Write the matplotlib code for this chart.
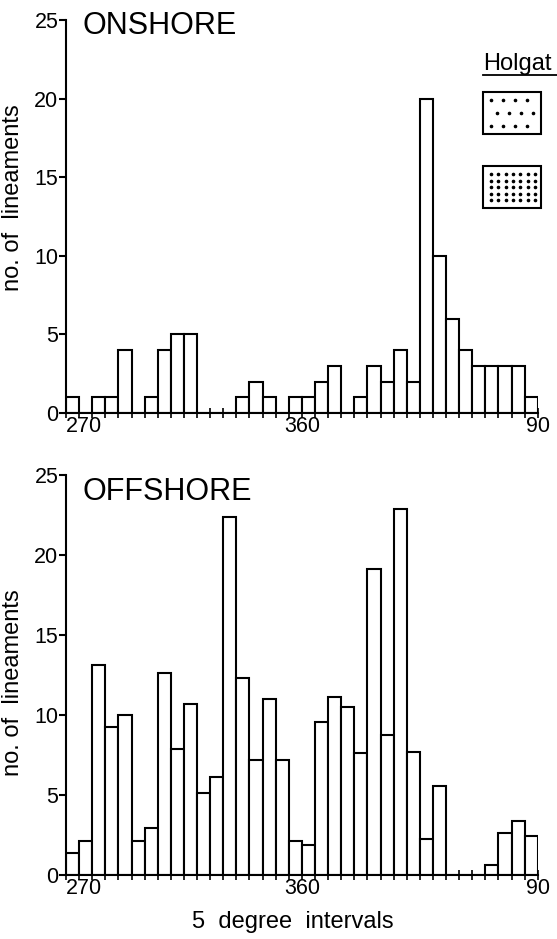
import matplotlib
matplotlib.use("Agg")
import matplotlib.pyplot as plt
import numpy as np
from matplotlib.patches import Rectangle
from matplotlib.lines import Line2D


# 5 degree bins from 270 through 360 to 90 (36 intervals)
BIN_STARTS = list(range(270, 360, 5)) + list(range(0, 90, 5))
TICK_LABELS = {0: "270", 18: "360", 36: "90"}

ONSHORE = [1, 0, 1, 1, 4, 0, 1, 4, 5, 5, 0, 0, 0, 1, 2, 1, 0, 1,
           1, 2, 3, 0, 1, 3, 2, 4, 2, 20, 10, 6, 4, 3, 3, 3, 3, 1]
OFFSHORE = [1.4, 2.15, 13.1, 9.25, 10.0, 2.15, 2.95, 12.6, 7.9, 10.7, 5.1, 6.1,
            22.4, 12.3, 7.2, 11.0, 7.2, 2.15, 1.85, 9.55, 11.15, 10.5, 7.6, 19.1,
            8.75, 22.9, 7.7, 2.25, 5.55, 0, 0, 0, 0.65, 2.65, 3.4, 2.45]

FONT = ["Liberation Sans", "DejaVu Sans"]
LW = 1.5
W, H = 557, 939


def draw_panel(ax, counts, title, title_y, ylabel_y, show_xlabel=False):
    x = np.arange(len(BIN_STARTS))
    ax.bar(x, counts, width=1.0, align="edge", color="white",
           edgecolor="black", linewidth=LW)
    ax.set_xlim(0, len(BIN_STARTS))
    ax.set_ylim(0, 25)

    for side in ("top", "right"):
        ax.spines[side].set_visible(False)
    for side in ("left", "bottom"):
        ax.spines[side].set_linewidth(LW)

    ax.set_yticks([0, 5, 10, 15, 20, 25])
    ax.set_yticklabels(["0", "5", "10", "15", "20", "25"], family=FONT, fontsize=15.5)
    ax.tick_params(axis="y", direction="out", length=5, width=LW, pad=0.5)

    ax.set_xticks(np.arange(len(BIN_STARTS) + 1))
    ax.set_xticklabels([TICK_LABELS.get(i, "") for i in range(len(BIN_STARTS) + 1)],
                       family=FONT, fontsize=15.5)
    ax.tick_params(axis="x", direction="inout", length=7, width=1.2, pad=-1)
    ax.get_xticklabels()[0].set_horizontalalignment("left")

    ax.set_ylabel("no. of  lineaments", family=FONT, fontsize=17)
    ax.yaxis.set_label_coords(-0.09, ylabel_y)

    ax.text(0.036, title_y, title, transform=ax.transAxes, family=FONT,
            fontsize=22, va="center", ha="left")

    if show_xlabel:
        ax.text(0.481, -0.1175, "5  degree  intervals", transform=ax.transAxes,
                family=FONT, fontsize=17, va="center", ha="center")


def dotted_box(fig, left, top, width, height, nx, ny, stagger):
    fig.add_artist(Rectangle((left / W, 1 - (top + height) / H), width / W, height / H,
                             transform=fig.transFigure, facecolor="white",
                             edgecolor="black", linewidth=LW))
    right_inset = 14 if stagger else 6
    xs = np.linspace(left + 8, left + width - right_inset, nx)
    ys = np.linspace(top + 8, top + height - 8, ny)
    gx, gy = np.meshgrid(xs, ys)
    if stagger:
        gx = gx + np.where(np.arange(ny)[:, None] % 2 == 1, (xs[1] - xs[0]) / 2, 0)
    fig.add_artist(Line2D(gx.ravel() / W, 1 - gy.ravel() / H, linestyle="none",
                          marker="o", markersize=1.6, color="black",
                          transform=fig.transFigure))


def main():
    fig = plt.figure(figsize=(W / 100, H / 100), dpi=100)
    ax_top = fig.add_axes([0.1185, 0.5602, 0.847, 0.4185])
    ax_bot = fig.add_axes([0.1185, 0.0682, 0.847, 0.4259])
    for ax in (ax_top, ax_bot):
        ax.set_facecolor("none")

    draw_panel(ax_top, ONSHORE, "ONSHORE", 0.985, 0.547)
    draw_panel(ax_bot, OFFSHORE, "OFFSHORE", 0.9575, 0.48, show_xlabel=True)

    # Holgat key in the upper right corner
    fig.text(483 / W, 1 - 64 / H, "Holgat", family=FONT, fontsize=17,
             va="center", ha="left")
    fig.add_artist(Line2D([483 / W, 1.0], [1 - 75 / H, 1 - 75 / H],
                          color="black", linewidth=1.3, transform=fig.transFigure))
    dotted_box(fig, 483, 92, 58, 42, 4, 3, stagger=True)
    dotted_box(fig, 483, 166, 58, 42, 7, 5, stagger=False)

    fig.savefig("out.png", dpi=100)


if __name__ == "__main__":
    main()
